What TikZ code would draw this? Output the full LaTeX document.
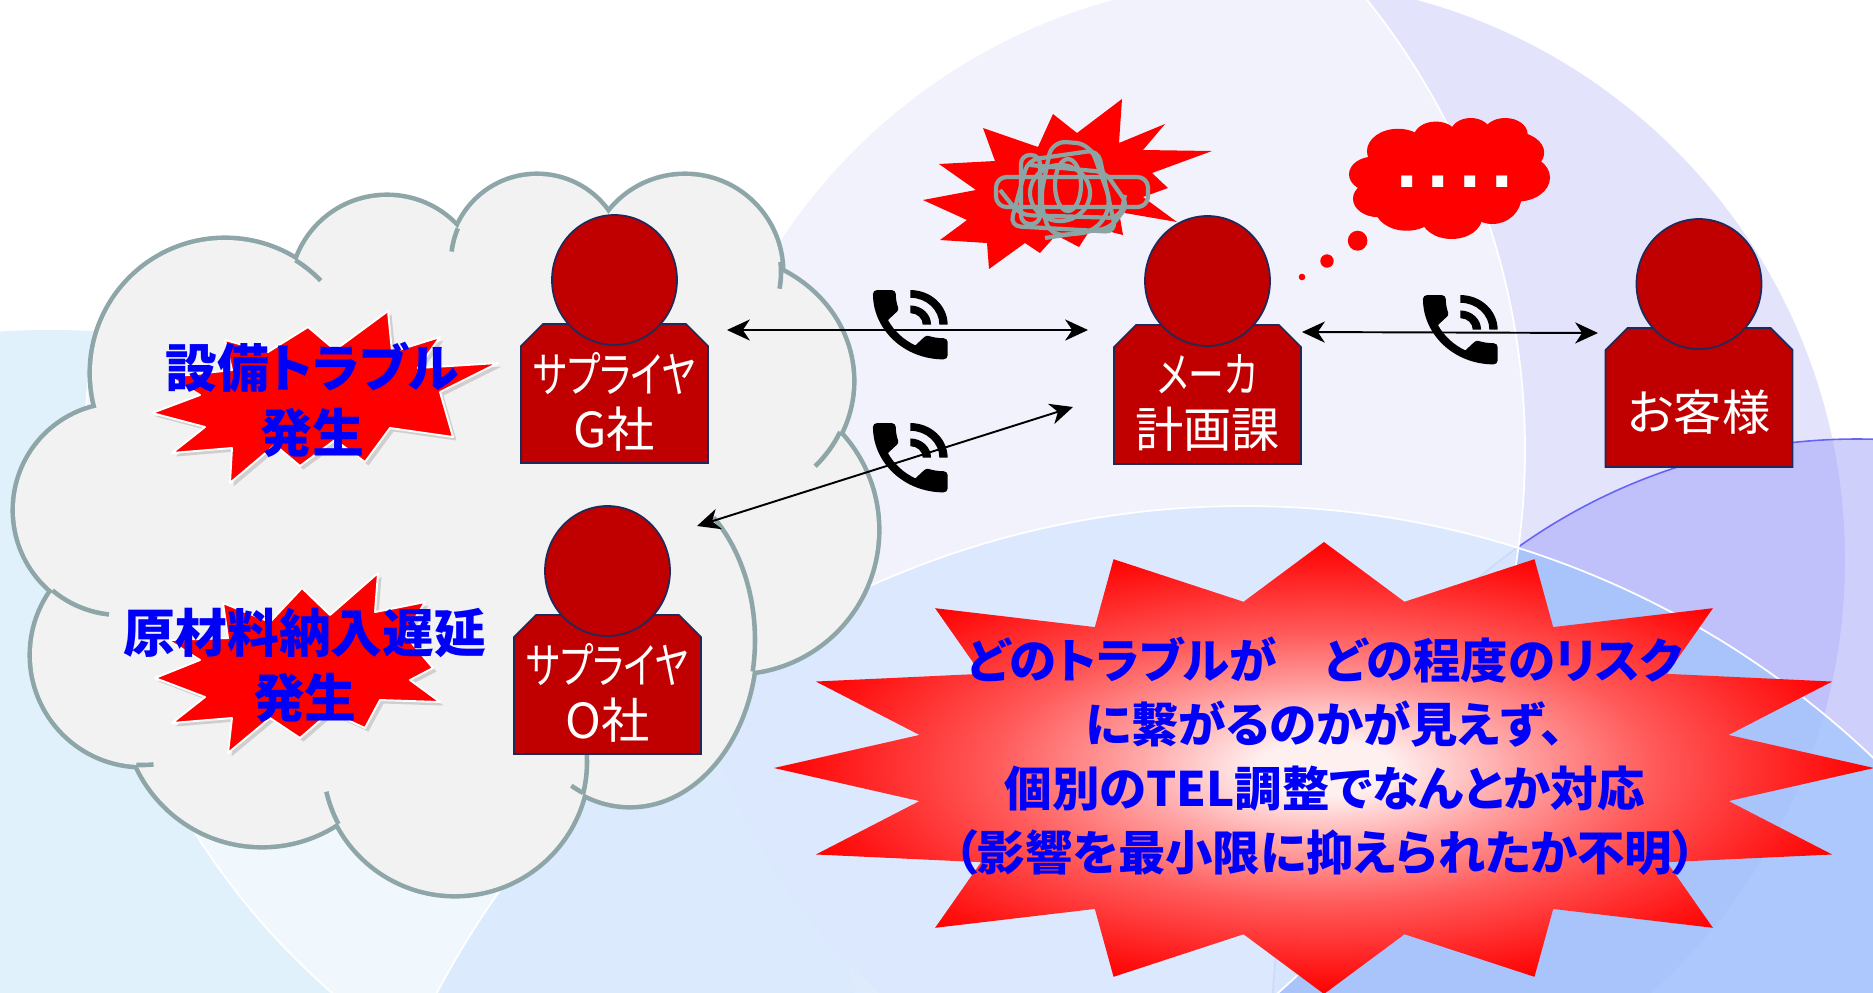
\documentclass[tikz,border=0pt]{standalone}
\usepackage{fontspec}
\usepackage{graphicx}
\usepackage{tikz}
\usetikzlibrary{arrows.meta, shadows}
\newfontfamily\jp[RawFeature=+palt]{Noto Sans CJK JP}
\newfontfamily\dotfont{Liberation Sans}

\definecolor{personred}{RGB}{192,0,0}
\definecolor{personedge}{RGB}{31,42,90}
\definecolor{cloudedge}{RGB}{142,166,168}
\definecolor{cloudfill}{RGB}{242,242,242}
\definecolor{alertblue}{RGB}{0,0,250}
\definecolor{scribblegray}{RGB}{140,164,164}
\definecolor{bgleft}{RGB}{225,241,252}
\definecolor{bglav}{RGB}{227,227,252}
\definecolor{bgpurple}{RGB}{150,150,250}
\definecolor{bgpurpleedge}{RGB}{100,100,245}
\definecolor{bgblue}{RGB}{160,198,252}
\definecolor{burstcore}{RGB}{255,240,240}
\definecolor{burstpale}{RGB}{255,160,160}
\definecolor{burstmid}{RGB}{255,90,90}
\definecolor{burstouter}{RGB}{255,45,45}

% the middle 50bp square is fitted to the star, so its tips sit at 25bp
\pgfdeclareradialshading{burstshade}{\pgfpoint{0bp}{0bp}}{%
  color(0bp)=(burstcore); color(3bp)=(burstcore); color(9bp)=(burstpale);
  color(15bp)=(burstmid); color(20bp)=(burstouter); color(25bp)=(red); color(50bp)=(red)}

% puffs of the cloud: x/y/rx/ry
\newcommand{\puffs}{225/373/133/133, 387/292/95/95, 537/262/86/86, 685/272/96/96,
  715/381/137/125, 735/530/142/142, 630/640/125/165, 455/762/132/132,
  262/708/137/137, 142/655/110/110, 120/510/105/105}

\newcommand{\cloudbody}[1]{%
  \foreach \cx/\cy/\rx/\ry in \puffs {\fill[#1] (\cx,\cy) ellipse[x radius=\rx, y radius=\ry];}
  \fill[#1] (225,373) -- (387,292) -- (537,262) -- (685,272) -- (715,381) -- (735,530)
    -- (630,640) -- (455,762) -- (262,708) -- (142,655) -- (120,510) -- cycle;}

% inner arc of a puff: centre x, centre y, rx, ry, from, to
\newcommand{\stub}[6]{%
  \draw[cloudstub] ({#1+#3*cos(#5)},{#2+#4*sin(#5)}) arc[start angle=#5, end angle=#6, x radius=#3, y radius=#4];}

% narrow kana, as in the slide font
\newcommand{\kana}[1]{\scalebox{0.74}[1]{#1}}

% person: [text offset]{name}{x}{top of body}{label}
\newcommand{\person}[5][78]{%
  \draw[personbody] ({#3-93.5},{#4+22}) -- ({#3-71.5},#4) -- ({#3+71.5},#4) -- ({#3+93.5},{#4+22})
    -- ({#3+93.5},{#4+139}) -- ({#3-93.5},{#4+139}) -- cycle;
  \draw[personbody] (#3,{#4-44}) ellipse[x radius=62.5, y radius=65];
  \node[persontext] (#2) at (#3,{#4+#1}) {#5};}

% handset with sound waves
\newcommand{\phone}[1]{%
  \begin{scope}[shift={#1}, xscale=4.15, yscale=3.85]
    \fill (20,15.5) .. controls (18.75,15.5) and (17.55,15.3) .. (16.43,14.93)
      .. controls (16.08,14.82) and (15.69,14.9) .. (15.41,15.17) -- (13.21,17.37)
      .. controls (10.38,15.93) and (8.06,13.62) .. (6.62,10.78) -- (8.82,8.57)
      .. controls (9.1,8.31) and (9.18,7.92) .. (9.07,7.57)
      .. controls (8.7,6.45) and (8.5,5.25) .. (8.5,4)
      .. controls (8.5,3.45) and (8.05,3) .. (7.5,3) -- (4,3)
      .. controls (3.45,3) and (3,3.45) .. (3,4)
      .. controls (3,13.39) and (10.61,21) .. (20,21)
      .. controls (20.55,21) and (21,20.55) .. (21,20) -- (21,16.5)
      .. controls (21,15.95) and (20.55,15.5) .. (20,15.5) -- cycle;
    \fill (19,12) -- (21,12) .. controls (21,7.03) and (16.97,3) .. (12,3) -- (12,5)
      .. controls (15.87,5) and (19,8.13) .. (19,12) -- cycle;
    \fill (15,12) -- (17,12) .. controls (17,9.24) and (14.76,7) .. (12,7) -- (12,9)
      .. controls (13.66,9) and (15,10.34) .. (15,12) -- cycle;
  \end{scope}}

\begin{document}
\begin{tikzpicture}[x=0.02cm, y=-0.02cm,
    personbody/.style={fill=personred, draw=personedge, line width=1pt},
    persontext/.style={text=white, font=\jp\fontsize{27.5}{31}\selectfont, align=center, inner sep=0pt},
    trouble/.style={text=alertblue, font=\jp\bfseries\fontsize{29.5}{37}\selectfont, align=center, inner sep=0pt},
    risktext/.style={text=alertblue, font=\jp\bfseries\fontsize{27}{36.3}\selectfont, align=center, inner sep=0pt},
    burst/.style={fill=red, draw=white, line width=1.1pt, line join=round,
      drop shadow={shadow xshift=2pt, shadow yshift=-2pt, opacity=.3}},
    cloudstub/.style={draw=cloudedge, line width=2.6pt},
    scribble/.style={draw=scribblegray, line width=2.4pt, line join=round},
    tel/.style={<->, line width=1.1pt, >={Stealth[length=13pt, width=12pt, inset=4pt]}}]

    \useasboundingbox (0,0) rectangle (1873,992);
    \clip (0,0) rectangle (1873,992);

    % background circles
    \fill[white] (0,0) rectangle (1873,992);
    \fill[bgleft] (50,1150) circle[radius=820];
    \fill[bglav] (1265,560) circle[radius=580];
    \draw[fill=bgpurple, fill opacity=.45, draw=bgpurpleedge, line width=.9pt] (1857,1024) circle[radius=585];
    \draw[fill=bgblue, fill opacity=.74, draw=white, line width=1pt] (1244,1418) circle[radius=912];
    \draw[fill=white, fill opacity=.55, draw=white, line width=1pt] (805,450) circle[radius=720];

    % suppliers' cloud
    \foreach \cx/\cy/\rx/\ry in \puffs {\draw[cloudedge, line width=5.2pt] (\cx,\cy) ellipse[x radius=\rx, y radius=\ry];}
    \cloudbody{cloudfill}
    \stub{225}{373}{133}{133}{-58}{-44}
    \stub{537}{262}{86}{86}{187}{203}
    \stub{685}{272}{96}{96}{-6}{10}
    \stub{715}{381}{137}{125}{24}{43}
    \stub{630}{640}{125}{165}{-48}{11}
    \stub{455}{762}{132}{132}{-4}{14}
    \stub{630}{640}{125}{165}{112}{118}
    \stub{455}{762}{132}{132}{152}{167}
    \stub{142}{655}{110}{110}{84}{93}
    \stub{120}{510}{105}{105}{96}{130}

    % troubles at the suppliers
    \path[burst] (388,311) -- (392,352) -- (440,337) -- (418,368) -- (498,363) -- (440,392)
      -- (453,437) -- (390,428) -- (365,462) -- (335,440) -- (300,466) -- (275,445)
      -- (230,483) -- (232,448) -- (172,453) -- (205,427) -- (152,413) -- (200,395)
      -- (170,377) -- (232,370) -- (225,340) -- (268,352) -- (308,327) -- (335,350) -- cycle;
    \path[burst] (378,573) -- (375,612) -- (425,602) -- (405,635) -- (433,668) -- (410,680)
      -- (440,702) -- (380,700) -- (365,728) -- (330,712) -- (300,738) -- (270,718)
      -- (228,753) -- (232,718) -- (172,723) -- (205,697) -- (155,678) -- (200,660)
      -- (168,640) -- (228,638) -- (223,603) -- (270,622) -- (302,588) -- (330,615) -- cycle;
    \node[trouble] (eqTrouble) at (312,400) {設備トラブル\\発生};
    \node[trouble] (matDelay) at (305,665) {原材料納入遅延\\発生};

    % people
    \person{supG}{614.5}{324}{\kana{サプライヤ}\\G社}
    \person{supO}{607.5}{615}{\kana{サプライヤ}\\O社}
    \person{maker}{1207.5}{325}{\kana{メーカ}\\計画課}
    \person[84]{client}{1699}{328}{お客様}

    % big burst with the message
    \shade[shading=burstshade] (1874,768) \foreach \a in {0,22.5,...,337.5} {
        -- ({1324+412.5*cos(\a+11.25)},{768-169.5*sin(\a+11.25)})
        -- ({1324+550*cos(\a+22.5)},{768-226*sin(\a+22.5)}) } -- cycle;
    \node[risktext] (risk) at (1325,756) {どのトラブルが　どの程度のリスク\\に繋がるのかが見えず、\\個別のTEL調整でなんとか対応\\（影響を最小限に抑えられたか不明）};

    % maker in a muddle
    \fill[red] (1122,99) -- (1119,143) -- (1165,124) -- (1143,150) -- (1212,151) -- (1152,173)
      -- (1168,188) -- (1143,197) -- (1177,222) -- (1119,212) -- (1123,235) -- (1092,227)
      -- (1079,247) -- (1056,235) -- (1040,253) -- (1025,243) -- (989,269) -- (987,243)
      -- (940,240) -- (967,220) -- (923,200) -- (976,190) -- (939,164) -- (995,161)
      -- (983,128) -- (1038,147) -- (1053,114) -- (1077,133) -- cycle;
    \draw[scribble, rounded corners=6] (996,177) rectangle (1148,207);
    \draw[scribble, rounded corners=5] (1021,155) rectangle (1040,224);
    \draw[scribble, rounded corners=8] (1052,141) -- (1090,144) -- (1112,205) -- (1095,232)
      -- (1050,236) -- (1040,200) -- cycle;
    \draw[scribble] (1060,193) ellipse[x radius=30, y radius=28];
    \draw[scribble] (1068,185) ellipse[x radius=13, y radius=26];
    \draw[scribble, rounded corners=6] (1010,226) -- (1028,160) -- (1098,150) -- (1116,232) -- cycle;
    \draw[scribble, rounded corners=6] (1000,190) -- (1020,215) -- (1120,218) -- (1125,195);
    \draw[scribble, rounded corners=5] (1030,165) -- (1105,172) -- (1128,205) -- (1110,228) -- (1045,238);

    % speechless
    \begin{scope}[shift={(1349,118)}, xscale=0.2332, yscale=0.1685, shift={(-15,-176)}]
      \cloudbody{red}
    \end{scope}
    \fill[red] (1357.6,240.7) ellipse[x radius=9.8, y radius=10];
    \fill[red] (1327,261) circle[radius=6.7];
    \fill[red] (1302,277) circle[radius=3.3];
    \node[text=white, font=\dotfont\bfseries\fontsize{44}{44}\selectfont, inner sep=0pt] (silence)
      at (1454.5,181.5) {.\hspace{5.8pt}.\hspace{5.8pt}.\hspace{5.8pt}.};

    % phone calls
    \phone{(860.5,278.5)}
    \phone{(860.5,411.5)}
    \phone{(1410.5,283.5)}
    \coordinate (telG) at (727,330);
    \coordinate (telMkW) at (1088,330);
    \coordinate (telMkE) at (1302,332);
    \coordinate (telClient) at (1598,333);
    \coordinate (telO) at (697,526);
    \coordinate (telMkSW) at (1073,407);
    \draw[tel] (telG) -- (telMkW);
    \draw[tel] (telMkE) -- (telClient);
    \draw[tel] (telO) -- (telMkSW);
\end{tikzpicture}
\end{document}
